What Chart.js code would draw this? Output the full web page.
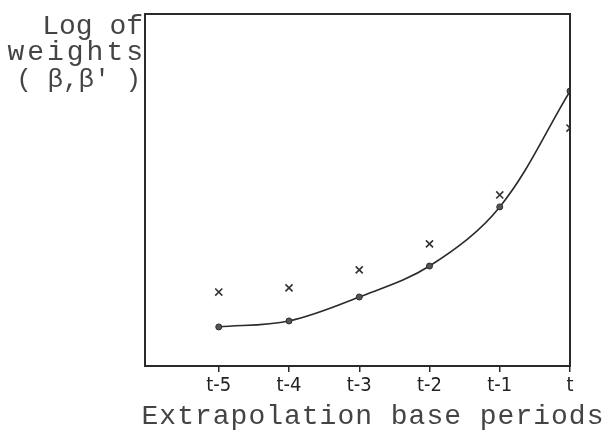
<!DOCTYPE html>
<html lang="en">
<head>
    <meta charset="UTF-8">
    <title>Log of weights</title>
    <script src="https://cdn.jsdelivr.net/npm/chart.js"></script>
    <style>
        html, body { margin: 0; padding: 0; background: #fff; }
        #wrap { width: 610px; height: 436px; }
    </style>
</head>
<body>
    <div id="wrap"><canvas id="weightsChart" width="610" height="436"></canvas></div>

    <script>
        // data (y has no scale, units are arbitrary)
        var periodLabels = ['t-5', 't-4', 't-3', 't-2', 't-1', 't'];
        var periodPos = [-5, -4, -3, -2, -1, 0];
        var betaCurve = [11.1, 12.8, 19.6, 28.4, 45.2, 78.1];
        var betaPrime = [21.0, 22.2, 27.3, 34.7, 48.6, 67.6];
        var yTitleLines = ['Log of', 'weights', '( \u03b2,\u03b2\u2032 )'];
        var xTitle = 'Extrapolation base periods';

        var ink = '#2a2a2a';
        var mono = '"Liberation Mono", "DejaVu Sans Mono", monospace';

        function toPoints(vals) {
            return vals.map(function (v, i) { return { x: periodPos[i], y: v }; });
        }

        // box around plot + typed axis titles
        var paperPlugin = {
            id: 'paper',
            afterDraw: function (chart) {
                var c = chart.ctx, a = chart.chartArea;
                c.save();
                c.strokeStyle = ink;
                c.lineWidth = 2;
                c.strokeRect(a.left, a.top, a.right - a.left, a.bottom - a.top);

                c.fillStyle = '#444';
                c.font = '28px ' + mono;
                c.textBaseline = 'alphabetic';
                c.textAlign = 'right';
                c.letterSpacing = '0px';
                c.fillText(yTitleLines[0], a.left - 2, 34);
                c.letterSpacing = '3px';
                c.fillText(yTitleLines[1], a.left + 1, 60);
                c.letterSpacing = '0px';
                c.font = '26px ' + mono;
                c.fillText(yTitleLines[2], a.left - 4, 87);

                c.font = '28px ' + mono;
                c.letterSpacing = '1px';
                c.textAlign = 'center';
                c.fillText(xTitle, 373, 424);
                c.restore();
            }
        };

        var ctx = document.getElementById('weightsChart').getContext('2d');
        var chart = new Chart(ctx, {
            type: 'scatter',
            data: {
                datasets: [{
                    label: 'beta',
                    data: toPoints(betaCurve),
                    showLine: true,
                    tension: 0.35,
                    borderColor: ink,
                    borderWidth: 1.6,
                    pointRadius: 3,
                    pointBackgroundColor: '#555',
                    pointBorderColor: ink,
                    pointBorderWidth: 1
                }, {
                    label: "beta'",
                    data: toPoints(betaPrime),
                    showLine: false,
                    pointStyle: 'crossRot',
                    pointRadius: 5,
                    pointBorderColor: '#333',
                    pointBorderWidth: 1.6
                }]
            },
            options: {
                responsive: false,
                animation: false,
                layout: { padding: { left: 145, top: 14, right: 40, bottom: 0 } },
                plugins: {
                    legend: { display: false },
                    tooltip: { enabled: false }
                },
                scales: {
                    x: {
                        type: 'linear',
                        min: -6.05,
                        max: 0,
                        afterBuildTicks: function (scale) {
                            scale.ticks = periodPos.map(function (v) { return { value: v }; });
                        },
                        afterFit: function (scale) { scale.height = 70; },
                        border: { display: false },
                        grid: {
                            drawOnChartArea: false,
                            drawTicks: true,
                            tickLength: 6,
                            color: ink,
                            lineWidth: 1.5
                        },
                        ticks: {
                            padding: 2,
                            color: '#222',
                            font: { family: '"Liberation Sans Narrow", "DejaVu Sans Condensed", "DejaVu Sans", sans-serif', size: 20 },
                            maxRotation: 0,
                            autoSkip: false,
                            callback: function (v) {
                                var i = periodPos.indexOf(v);
                                return i >= 0 ? periodLabels[i] : '';
                            }
                        }
                    },
                    y: {
                        display: false,
                        min: 0,
                        max: 100
                    }
                }
            },
            plugins: [paperPlugin]
        });
    </script>
</body>
</html>
